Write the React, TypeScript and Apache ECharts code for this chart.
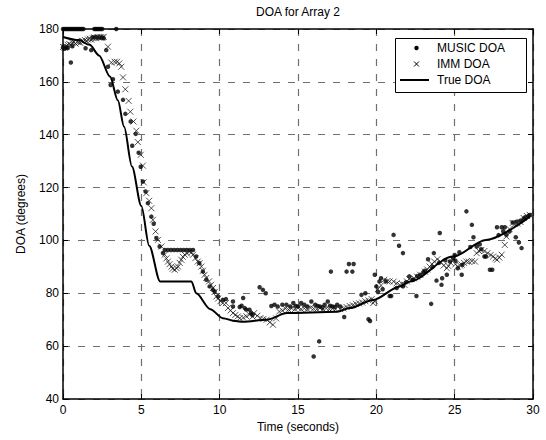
import React, { useEffect, useRef } from "react";
import * as echarts from "echarts";

const xTicks = [0, 5, 10, 15, 20, 25, 30];
const yTicks = [40, 60, 80, 100, 120, 140, 160, 180];

const trueT = [0, 1, 1.7, 2.3, 3, 3.5, 3.9, 4.4, 5, 5.5, 6.2, 8.2, 8.5, 9.4, 10.2, 11, 11.5, 13, 14.3, 17.5, 18.3, 19.8, 21.5, 22.1, 24.9, 27, 29.8];
const trueDeg = [177, 175.8, 174, 170, 162, 153, 143, 128, 113, 98, 84.5, 84.5, 80, 74, 70.6, 69.5, 69.2, 70, 72.5, 73, 74.4, 77.5, 82.6, 84.4, 93.9, 100.2, 109];

const musicT = [0, 0.1, 0.2, 0.3, 0.4, 0.5, 0.6, 0.7, 0.8, 0.9, 1.0, 1.1, 1.2, 1.3, 2.0, 2.1, 2.2, 2.3, 2.4, 2.5, 3.4,
  0, 0.1, 0.2, 0.3, 0.5, 0.6, 1.44, 1.8, 1.9, 2.1, 2.3, 2.5, 2.6, 2.76, 2.87, 3.04, 3.19, 3.5, 3.83, 3.98, 4.32, 4.42, 4.64, 4.83, 4.96, 5.1, 5.27, 5.42, 5.64, 5.79, 5.96, 6.17, 6.38,
  6.5, 6.7, 6.9, 7.1, 7.3, 7.5, 7.7, 7.9, 8.1, 8.3,
  8.5, 8.7, 8.93, 9.15, 9.36, 9.57, 9.68, 9.9, 10.2, 10.4, 10.85, 10.85, 11.28, 11.4, 11.5, 11.6, 11.7, 11.9, 12.0, 12.1, 12.55, 12.76, 12.94,
  13.3, 13.5, 13.7, 14.0, 14.26, 14.5, 14.7, 14.85, 15.0, 15.2, 15.4, 15.6, 15.85, 16.0, 16.1, 16.25, 16.35, 16.4, 16.55, 16.7, 16.9, 17.05, 17.1, 17.2, 17.35, 17.5, 17.7, 17.95,
  18.1, 18.25, 18.47, 18.55, 19.05, 19.3, 19.5, 19.6, 19.9, 20.0, 20.2, 20.3, 20.6, 20.85, 20.95, 21.1, 21.3, 21.45, 21.7, 21.7, 22.1, 22.35, 22.56, 22.8, 23.0, 23.3, 23.5, 23.67, 23.84,
  24.05, 24.16, 24.2, 24.5, 24.7, 24.9, 25.05, 25.2, 25.45, 25.5, 25.75, 26.1, 26.2, 26.4, 26.7, 26.9, 27.0, 27.25, 27.4, 27.7, 28.0, 28.2, 28.3, 28.5, 28.7, 28.9, 28.95, 29.1, 29.27, 29.5, 29.7, 29.8,
  20.1, 20.4, 21.9, 22.3, 22.6, 23.1, 23.6, 24.0, 24.4, 25.0, 25.3, 26.0, 26.6, 27.8, 28.1, 29.2, 29.4];
const musicDeg = [180, 180, 180, 180, 180, 180, 180, 180, 180, 180, 180, 180, 180, 180, 180, 180, 180, 180, 180, 180, 180,
  173, 172.5, 173, 172.8, 167.3, 173.5, 172.7, 172, 176.9, 177, 176.8, 176.8, 176.5, 172, 165.7, 158.8, 161, 156.3, 153.2, 147.9, 145, 135.8, 140.3, 133.2, 127.9, 122.3, 118.5, 114.1, 109, 106.3, 100.9, 97.7, 95.2,
  96.4, 96.4, 96.4, 96.4, 96.4, 96.4, 96.4, 96.4, 96.4, 96.4,
  93.9, 91.4, 88.2, 85.1, 82.6, 81.3, 80.7, 78.8, 77.5, 77.8, 76.9, 75, 74.8, 75.3, 78.2, 74.4, 73.8, 73.8, 72.5, 71.9, 82.3, 81.3, 80,
  75.2, 75.7, 75, 75.7, 75.7, 75, 76.3, 75.2, 75, 76.3, 75.7, 75, 76.9, 56.1, 75.7, 75.2, 61.8, 75, 74.6, 75.7, 76.9, 75.3, 88.2, 75, 74.8, 75.7, 75, 71,
  88.2, 91.1, 88.2, 91.1, 79.4, 80, 70.2, 69.5, 87, 82.6, 84.5, 85.7, 84.5, 79, 79, 102.1, 82, 98, 95.2, 82.6, 86.4, 85.1, 79, 87, 88, 92.9, 76, 95.2, 84.8,
  102.8, 83.2, 85.7, 87, 92, 93.3, 92.3, 89.5, 87, 90.8, 111, 105.9, 101.2, 97.7, 96.7, 93.9, 93.9, 88.9, 88.9, 105, 105, 105, 102.1, 103.4, 106.8, 101.2, 107.1, 99.2, 97.1, 108.8, 109.3, 109.6,
  80.5, 81.5, 84.2, 85, 86.5, 88.5, 90, 91.5, 92.5, 94.5, 95.5, 97.5, 98.5, 102, 103.5, 107.5, 108.2];

const immT = [0, 0.1, 0.2, 0.3, 0.4, 0.5, 0.6, 0.7, 0.8, 0.9, 1.0, 1.1, 1.2, 1.3, 1.4, 1.5, 1.6, 1.7, 1.8, 1.9, 2.0, 2.1, 2.2, 2.3, 2.4, 2.5, 2.6,
  2.87, 3.08, 3.3, 3.45, 3.6, 3.72, 3.83, 3.98, 4.19, 4.3, 4.5, 4.68, 4.78, 4.96, 5.1, 5.15, 5.32, 5.5, 5.64, 5.74, 5.91, 6.06, 6.28,
  6.49, 6.6, 6.7, 6.8, 6.92, 7.0, 7.13, 7.25, 7.34, 7.45, 7.55, 7.65, 7.77, 7.9, 8.08, 8.2, 8.3, 8.45, 8.6, 8.72, 8.83, 8.93, 9.04, 9.15, 9.32, 9.45, 9.57, 9.68, 9.79, 9.9,
  10.05, 10.2, 10.4, 10.53, 10.7, 10.85, 11.0, 11.15, 11.28, 11.5, 11.7, 11.9, 12.1, 12.2, 12.4, 12.6, 12.8, 13.0, 13.2, 13.4, 13.6, 13.8,
  14.0, 14.2, 14.4, 14.6, 14.8, 15.0, 15.2, 15.4, 15.6, 15.8, 16.0, 16.2, 16.4, 16.6, 16.8, 17.0, 17.2, 17.4, 17.7, 17.9, 18.1, 18.3, 18.5, 18.7, 18.9, 19.1, 19.3, 19.5, 19.7, 19.8, 19.9,
  20.1, 20.3, 20.5, 20.7, 20.85, 21.1, 21.3, 21.5, 21.65, 21.8, 21.95, 22.1, 22.4, 22.6, 22.8, 23.1, 23.25, 23.4, 23.55, 23.7, 23.9, 24.1, 24.3, 24.5, 24.6, 24.75, 24.9,
  25.05, 25.2, 25.35, 25.45, 25.6, 25.75, 25.9, 26.1, 26.3, 26.4, 26.55, 26.7, 26.9, 27.1, 27.3, 27.45, 27.6, 27.7, 27.85, 28.0, 28.2, 28.3, 28.5, 28.7, 28.85, 29.0, 29.2, 29.4, 29.6, 29.8];
const immDeg = [173.2, 173, 173.5, 174, 174.3, 174, 174.8, 175, 174.5, 175.2, 175, 174.8, 175.5, 175.3, 175.8, 175.5, 176, 176.3, 176, 176.5, 176.8, 176.5, 177, 176.7, 177, 176.8, 177,
  173.3, 167.3, 167.6, 167.6, 167, 165.7, 161.7, 157.2, 152.8, 148.7, 145, 141.5, 137.2, 132.4, 128.3, 122, 117.9, 115, 112.2, 107.8, 103.4, 100.2, 97.7,
  94.6, 93.2, 92, 91, 90.1, 89.3, 88.9, 89.5, 90.1, 91.5, 92.7, 93.8, 94.6, 95.2, 95.8, 95.5, 94.6, 93.3, 92, 91.4, 90.1, 88.5, 87, 85.8, 84.5, 83.2, 82, 80.5, 78.8, 78,
  77, 76.3, 76.3, 74.4, 73.5, 72.5, 71.8, 71.2, 70.6, 70.8, 71.3, 71.9, 71.2, 72.5, 71.5, 70.6, 70.3, 70, 69, 68.1, 70.5, 73.1,
  73.5, 74.2, 73.8, 74.3, 74, 74.5, 74, 74.3, 74, 74.5, 74.2, 74, 74.4, 74, 74.3, 74, 74.2, 74, 74, 74.3, 74.8, 75.2, 75.5, 76, 76.2, 76.5, 77, 77.3, 77.8, 76.3, 77,
  81.6, 83, 85.1, 84.6, 84.5, 84.4, 83.8, 83.2, 83.5, 83.2, 84.5, 85.4, 85.7, 86.3, 87, 88.2, 89, 90.1, 91, 92, 92.9, 91.9, 90.5, 89.5, 90.3, 91.5, 92.7,
  91, 90.1, 90.5, 90.8, 91.5, 92, 92, 92.2, 92, 95.2, 96, 96.4, 96, 95.2, 94.5, 93.9, 93.2, 92.7, 93.5, 94.6, 98.3, 101.5, 104.3, 106.6, 106.3, 106.4, 107, 108.5, 109.3, 109.6];

const FONT = "'Liberation Sans', Arial, Helvetica, sans-serif";

export default function App() {
  const ref = useRef<HTMLDivElement>(null);
  useEffect(() => {
    document.body.style.margin = "0";
    const chart = echarts.init(ref.current!, null, { renderer: "svg" });
    const zip = (a: number[], b: number[]) => a.map((v, i) => [v, b[i]]);
    const axisCommon = {
      axisLine: { show: true, onZero: false, lineStyle: { color: "#000", width: 1.5 } },
      axisTick: { show: true, inside: true, length: 5, lineStyle: { color: "#000" } },
    };
    const gridLine = { show: true, lineStyle: { color: "#707070", type: [7, 8], width: 1.2 } };
    chart.setOption({
      animation: false,
      backgroundColor: "#fff",
      textStyle: { fontFamily: FONT },
      grid: { left: 63, right: 13, top: 29, bottom: 41 },
      xAxis: [
        {
          type: "value", min: xTicks[0], max: xTicks[xTicks.length - 1], interval: 5,
          position: "bottom", ...axisCommon,
          axisLabel: { color: "#000", fontSize: 12, fontFamily: FONT, margin: 5 },
          splitLine: gridLine,
          name: "Time (seconds)", nameLocation: "middle", nameGap: 22,
          nameTextStyle: { color: "#000", fontSize: 12, fontFamily: FONT },
        },
        {
          type: "value", min: xTicks[0], max: xTicks[xTicks.length - 1], interval: 5,
          position: "top", ...axisCommon, axisLabel: { show: false }, splitLine: { show: false },
        },
      ],
      yAxis: [
        {
          type: "value", min: yTicks[0], max: yTicks[yTicks.length - 1], interval: 20,
          position: "left", ...axisCommon,
          axisLabel: { color: "#000", fontSize: 12, fontFamily: FONT, margin: 4 },
          splitLine: gridLine,
          name: "DOA (degrees)", nameLocation: "middle", nameGap: 36, nameRotate: 90,
          nameTextStyle: { color: "#000", fontSize: 12, fontFamily: FONT },
        },
        {
          type: "value", min: yTicks[0], max: yTicks[yTicks.length - 1], interval: 20,
          position: "right", ...axisCommon, axisLabel: { show: false }, splitLine: { show: false },
        },
      ],
      series: [
        {
          name: "MUSIC DOA", type: "scatter", data: zip(musicT, musicDeg),
          symbol: "circle", symbolSize: 4.5, itemStyle: { color: "#000" }, z: 3,
        },
        {
          name: "IMM DOA", type: "scatter", data: zip(immT, immDeg),
          symbol: "path://M0,0L10,10M10,0L0,10", symbolSize: 6,
          itemStyle: { color: "transparent", borderColor: "#111", borderWidth: 0.9 }, z: 3,
        },
        {
          name: "True DOA", type: "line", data: zip(trueT, trueDeg),
          showSymbol: false, symbol: "none", smooth: 0.3, smoothMonotone: "x",
          lineStyle: { color: "#000", width: 2 }, z: 4,
        },
      ],
      graphic: [
        {
          type: "text", x: 298, y: 12, z: 100,
          style: { text: "DOA for Array 2", fill: "#000", font: `12px ${FONT}`, textAlign: "center", textVerticalAlign: "middle" },
        },
        {
          type: "rect", z: 100, shape: { x: 395.5, y: 38.5, width: 131, height: 54 },
          style: { fill: "#fff", stroke: "#000", lineWidth: 1 },
        },
        { type: "circle", z: 101, shape: { cx: 416.5, cy: 48, r: 2.2 }, style: { fill: "#000" } },
        { type: "line", z: 101, shape: { x1: 414, y1: 61.5, x2: 419, y2: 66.5 }, style: { stroke: "#000", lineWidth: 1 } },
        { type: "line", z: 101, shape: { x1: 419, y1: 61.5, x2: 414, y2: 66.5 }, style: { stroke: "#000", lineWidth: 1 } },
        { type: "line", z: 101, shape: { x1: 400, y1: 80, x2: 429, y2: 80 }, style: { stroke: "#000", lineWidth: 2 } },
        { type: "text", z: 101, x: 437, y: 48, style: { text: "MUSIC DOA", fill: "#000", font: `12px ${FONT}`, textVerticalAlign: "middle" } },
        { type: "text", z: 101, x: 437, y: 64, style: { text: "IMM DOA", fill: "#000", font: `12px ${FONT}`, textVerticalAlign: "middle" } },
        { type: "text", z: 101, x: 437, y: 80, style: { text: "True DOA", fill: "#000", font: `12px ${FONT}`, textVerticalAlign: "middle" } },
      ],
    });
    return () => chart.dispose();
  }, []);
  return <div ref={ref} style={{ width: 546, height: 440 }} />;
}
